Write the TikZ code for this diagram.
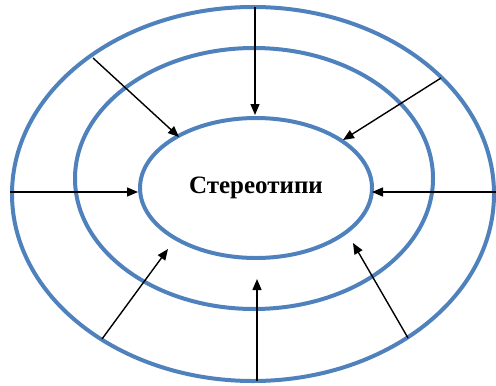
\documentclass[tikz,border=0pt]{standalone}
\usepackage{fontspec}
\setmainfont{Liberation Serif}
\usetikzlibrary{shapes.geometric,arrows.meta}
\definecolor{ringblue}{HTML}{4F81BD}
\begin{document}
\begin{tikzpicture}[x=0.5pt,y=-0.5pt,
  ring/.style={draw=ringblue,line width=2pt,ellipse,inner sep=0pt},
  arr/.style={draw=black,line width=0.7pt,-{Triangle[length=5.5pt,width=4.5pt]}}]
\useasboundingbox (0,0) rectangle (496,385);
% three concentric rings
\node[ring,minimum width=241pt,minimum height=187pt] (outer) at (253,194) {};
\node[ring,minimum width=179pt,minimum height=130.5pt] (middle) at (254,178.5) {};
\node[ring,minimum width=116pt,minimum height=70pt,font=\bfseries\fontsize{12.5pt}{14pt}\selectfont] (core) at (256,188) {Стереотипи};
% arrow start points
\coordinate (s1) at (255,7);
\coordinate (s2) at (93,58);
\coordinate (s3) at (441,78);
\coordinate (s4) at (10,192);
\coordinate (s5) at (496,192);
\coordinate (s6) at (102,339);
\coordinate (s7) at (408,338);
\coordinate (s8) at (257,381);
% arrow tips
\coordinate (t1) at (255,115);
\coordinate (t2) at (179,137);
\coordinate (t3) at (343,140);
\coordinate (t4) at (138,192);
\coordinate (t5) at (372,192);
\coordinate (t6) at (168,249);
\coordinate (t7) at (353,243);
\coordinate (t8) at (257,279);
\foreach \i in {1,...,8} \draw[arr] (s\i) -- (t\i);
\end{tikzpicture}
\end{document}
